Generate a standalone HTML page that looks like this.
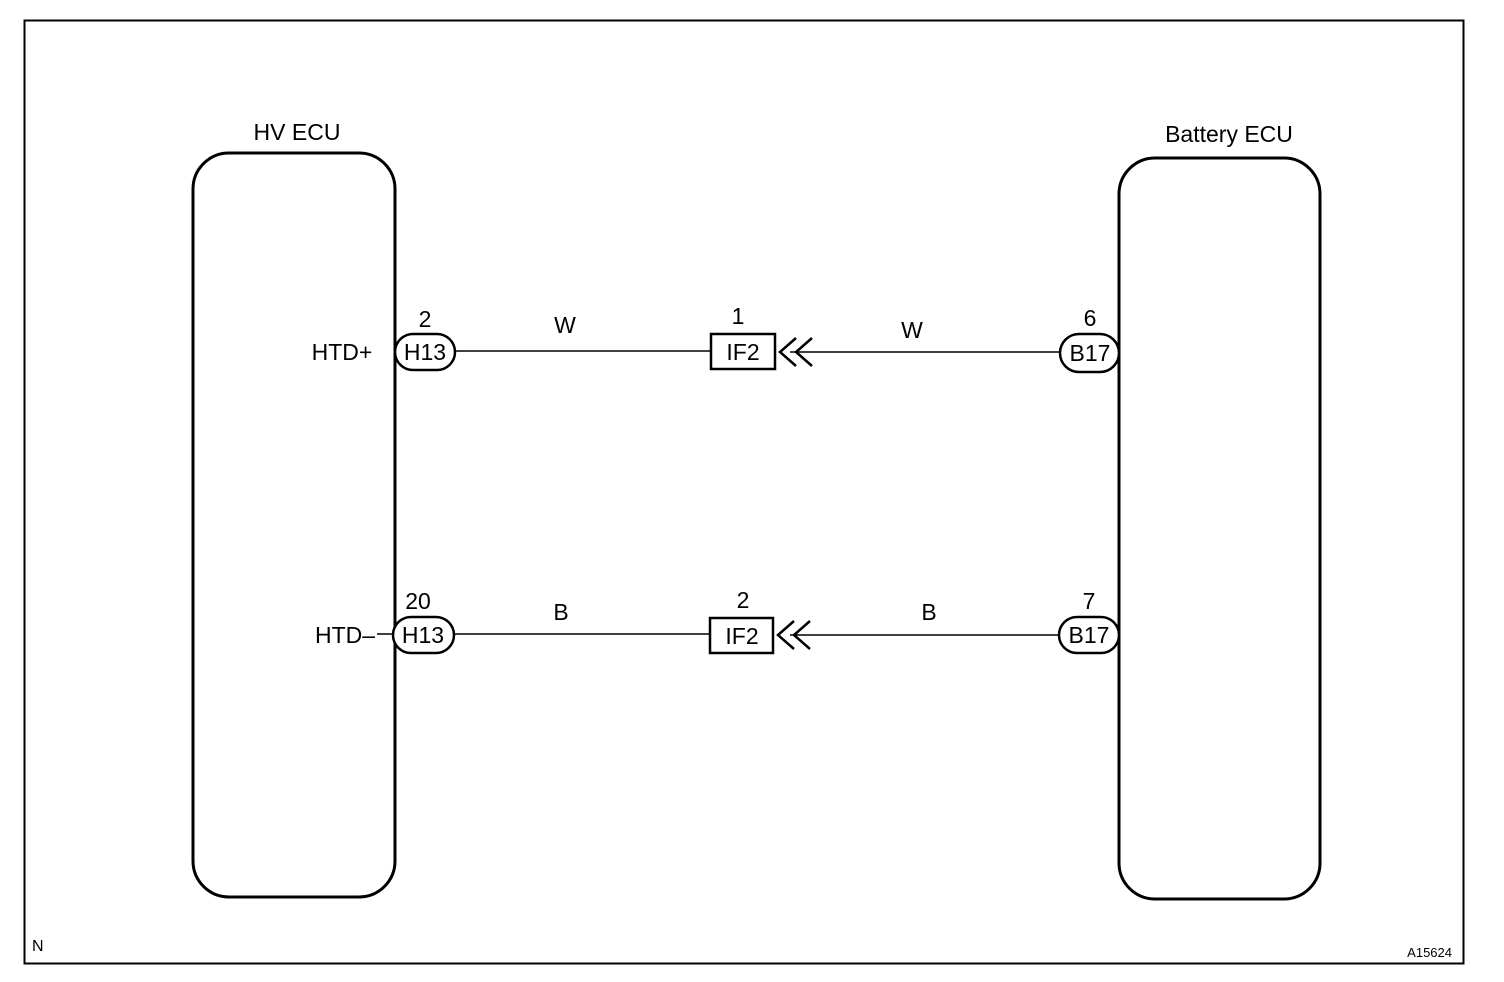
<!DOCTYPE html>
<html><head><meta charset="utf-8"><style>html,body{margin:0;padding:0;background:#fff}svg{display:block}</style></head>
<body>
<svg width="1504" height="982" viewBox="0 0 1504 982" xmlns="http://www.w3.org/2000/svg" font-family="Liberation Sans, Arial, sans-serif" fill="none" stroke="#000">
<rect x="24.5" y="20.5" width="1439" height="943" stroke-width="2"/>
<rect x="193" y="153" width="202" height="744" rx="36" stroke-width="3"/>
<rect x="1119" y="158" width="201" height="741" rx="36" stroke-width="3"/>
<!-- wires -->
<line x1="455" y1="351" x2="711" y2="351" stroke-width="1.5"/>
<line x1="790" y1="352" x2="1060" y2="352" stroke-width="1.5"/>
<line x1="455" y1="634" x2="710" y2="634" stroke-width="1.5"/>
<line x1="790" y1="635" x2="1060" y2="635" stroke-width="1.5"/>
<line x1="377" y1="634" x2="394" y2="634" stroke-width="1.5"/>
<!-- pills -->
<rect x="395" y="334" width="60" height="36" rx="18" fill="#fff" stroke-width="2.5"/>
<rect x="393" y="617" width="61" height="36" rx="18" fill="#fff" stroke-width="2.5"/>
<rect x="1060" y="334" width="59" height="38" rx="19" fill="#fff" stroke-width="2.5"/>
<rect x="1059" y="617" width="60" height="36" rx="18" fill="#fff" stroke-width="2.5"/>
<!-- IF2 boxes -->
<rect x="711" y="334" width="64" height="35" fill="#fff" stroke-width="2.5"/>
<rect x="710" y="618" width="63" height="35" fill="#fff" stroke-width="2.5"/>
<!-- chevrons -->
<polyline points="796,338 780,352 796,366" stroke-width="2.5"/>
<polyline points="812,338 796,352 812,366" stroke-width="2.5"/>
<polyline points="794,621 778,635 794,649" stroke-width="2.5"/>
<polyline points="810,621 794,635 810,649" stroke-width="2.5"/>
<g fill="#000" stroke="none" font-size="23">
<text x="297" y="140" text-anchor="middle">HV ECU</text>
<text x="1229" y="142" text-anchor="middle">Battery ECU</text>
<text x="342" y="360" text-anchor="middle">HTD+</text>
<text x="345" y="643" text-anchor="middle">HTD–</text>
<text x="425" y="360" text-anchor="middle">H13</text>
<text x="423" y="643" text-anchor="middle">H13</text>
<text x="1090" y="361" text-anchor="middle">B17</text>
<text x="1089" y="643" text-anchor="middle">B17</text>
<text x="743" y="360" text-anchor="middle">IF2</text>
<text x="742" y="644" text-anchor="middle">IF2</text>
<text x="425" y="327" text-anchor="middle">2</text>
<text x="418" y="609" text-anchor="middle">20</text>
<text x="738" y="324" text-anchor="middle">1</text>
<text x="743" y="608" text-anchor="middle">2</text>
<text x="1090" y="326" text-anchor="middle">6</text>
<text x="1089" y="609" text-anchor="middle">7</text>
<text x="565" y="333" text-anchor="middle">W</text>
<text x="912" y="338" text-anchor="middle">W</text>
<text x="561" y="620" text-anchor="middle">B</text>
<text x="929" y="620" text-anchor="middle">B</text>
<text x="32" y="951" font-size="16">N</text>
<text x="1452" y="957" font-size="13" text-anchor="end">A15624</text>
</g>
</svg>
</body></html>
